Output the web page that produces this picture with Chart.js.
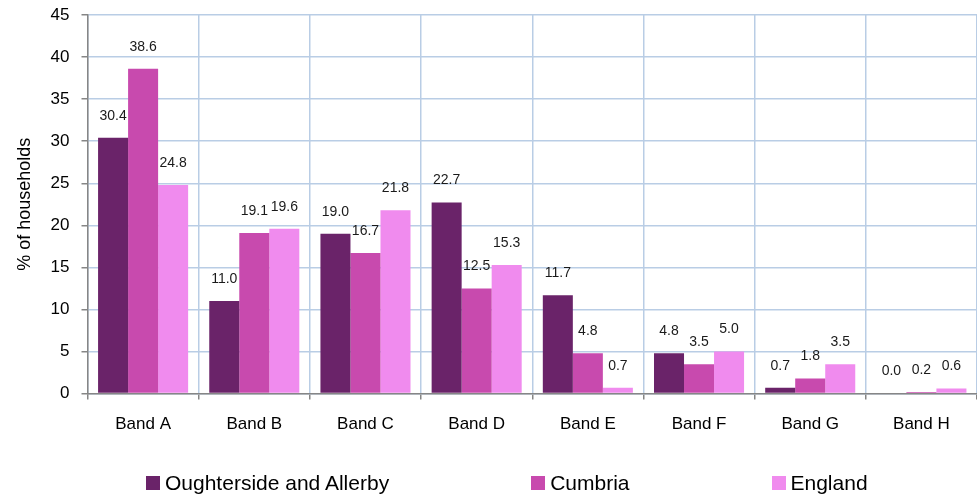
<!DOCTYPE html>
<html>
<head>
<meta charset="utf-8">
<script src="https://cdn.jsdelivr.net/npm/chart.js@4"></script>
<style>
  html, body { margin: 0; padding: 0; background: #fff; }
  #wrap { position: relative; width: 977px; height: 496px; }
  #legend {
    position: absolute; left: 146px; top: 471px;
    display: flex; gap: 142px;
    font-family: 'Liberation Sans', Arial, sans-serif; font-size: 21px; color: #000;
  }
  #legend span.item { display: flex; align-items: center; white-space: nowrap; }
  #legend span.box { display: inline-block; width: 14px; height: 14px; margin-right: 5px; }
</style>
</head>
<body>
<div id="wrap"><canvas id="chart"></canvas><div id="legend"></div></div>
<script>
const bands = ["Band A", "Band B", "Band C", "Band D", "Band E", "Band F", "Band G", "Band H"];
const oughterside = [30.4, 11.0, 19.0, 22.7, 11.7, 4.8, 0.7, 0.0];
const cumbria = [38.6, 19.1, 16.7, 12.5, 4.8, 3.5, 1.8, 0.2];
const england = [24.8, 19.6, 21.8, 15.3, 0.7, 5.0, 3.5, 0.6];
const seriesNames = ["Oughterside and Allerby", "Cumbria", "England"];
const seriesColors = ["#6a2369", "#c84aae", "#f08bee"];

const fontFamily = "'Liberation Sans', Arial, sans-serif";

// labels drawn above each bar, like the spreadsheet version
const barValueLabels = {
  id: "barValueLabels",
  afterDatasetsDraw(chart) {
    const ctx = chart.ctx;
    ctx.save();
    ctx.font = "14px " + fontFamily;
    ctx.fillStyle = "#1a1a1a";
    ctx.textAlign = "center";
    ctx.textBaseline = "middle";
    chart.data.datasets.forEach((ds, i) => {
      const meta = chart.getDatasetMeta(i);
      meta.data.forEach((bar, j) => {
        ctx.fillText(ds.data[j].toFixed(1), bar.x, bar.y - 22);
      });
    });
    ctx.restore();
  },
};

const chart = new Chart(document.getElementById("chart"), {
  type: "bar",
  data: {
    labels: bands,
    datasets: [
      { label: seriesNames[0], data: oughterside, backgroundColor: seriesColors[0] },
      { label: seriesNames[1], data: cumbria, backgroundColor: seriesColors[1] },
      { label: seriesNames[2], data: england, backgroundColor: seriesColors[2] },
    ],
  },
  options: {
    responsive: true,
    maintainAspectRatio: false,
    animation: false,
    categoryPercentage: 0.81,
    barPercentage: 1.0,
    layout: { padding: { top: 0, right: 0, left: 10, bottom: 46 } },
    plugins: {
      tooltip: { enabled: false },
      legend: { display: false },
    },
    scales: {
      x: {
        grid: {
          offset: true,
          color: "#b9cde5",
          tickColor: "#868686",
          tickLength: 6,
          lineWidth: 1.5,
        },
        border: { color: "#868686", width: 1.5 },
        ticks: {
          font: { family: fontFamily, size: 17 },
          color: "#000",
          padding: 15,
        },
      },
      y: {
        min: 0,
        max: 45,
        // keep the top of the plot close to the canvas edge
        afterFit: (scale) => {
          scale.paddingTop = 15;
        },
        grid: {
          color: "#b9cde5",
          tickColor: "#868686",
          tickLength: 6,
          lineWidth: 1.5,
        },
        border: { color: "#868686", width: 1.5 },
        ticks: {
          stepSize: 5,
          autoSkip: false,
          font: { family: fontFamily, size: 17 },
          color: "#000",
          padding: 12,
        },
        title: {
          display: true,
          text: "% of households",
          font: { family: fontFamily, size: 18 },
          color: "#000",
          padding: { bottom: 3 },
        },
      },
    },
  },
  plugins: [barValueLabels],
});

document.getElementById("legend").innerHTML = chart.data.datasets
  .map((ds) => `<span class="item"><span class="box" style="background:${ds.backgroundColor}"></span>${ds.label}</span>`)
  .join("");
</script>
</body>
</html>
